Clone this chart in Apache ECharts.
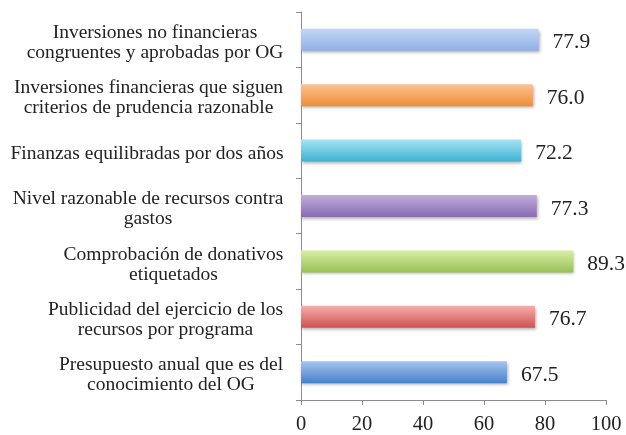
<!DOCTYPE html>
<html>
<head>
<meta charset="utf-8">
<script src="https://cdn.jsdelivr.net/npm/echarts@6/dist/echarts.min.js"></script>
<style>
html,body{margin:0;padding:0;background:#fff;}
#c{width:626px;height:435px;}
</style>
</head>
<body>
<div id="c"></div>
<script>
const categories = [
  "Inversiones no financieras\ncongruentes y aprobadas por OG",
  "Inversiones financieras que siguen\ncriterios de prudencia razonable",
  "Finanzas equilibradas por dos años",
  "Nivel razonable de recursos contra\ngastos",
  "Comprobación de donativos\netiquetados",
  "Publicidad del ejercicio de los\nrecursos por programa",
  "Presupuesto anual que es del\nconocimiento del OG"
];
const values = [77.9, 76.0, 72.2, 77.3, 89.3, 76.7, 67.5];
const xTicks = [0, 20, 40, 60, 80, 100];
const barColors = [
  ["#c3d6f5", "#8fb0e6"],
  ["#fcc293", "#ef8d36"],
  ["#a6e3f3", "#3bb2d1"],
  ["#c0aedb", "#8769b1"],
  ["#d8eea5", "#98c156"],
  ["#f6aeac", "#d0514e"],
  ["#a5c4ef", "#4580ca"]
];

const font = '"Liberation Serif", "DejaVu Serif", serif';
const catSize = 19.5;
// measure each label block width so lines can be centred within their block
const cv = document.createElement('canvas').getContext('2d');
cv.font = catSize + 'px ' + font;
const rich = {};
categories.forEach((c, i) => {
  const w = Math.max(...c.split('\n').map(l => cv.measureText(l).width));
  rich['a' + i] = {width: Math.ceil(w) + 1, align: 'center', fontFamily: font, fontSize: catSize, lineHeight: 20, color: '#222'};
});

const chart = echarts.init(document.getElementById('c'), null, {renderer: 'canvas'});
chart.setOption({
  animation: false,
  backgroundColor: '#ffffff',
  grid: {left: 301, right: 20, top: 12, bottom: 35, containLabel: false},
  xAxis: {
    type: 'value', min: xTicks[0], max: xTicks[xTicks.length - 1], interval: 20,
    axisLine: {show: true, lineStyle: {color: '#8c8c8c', width: 1}},
    axisTick: {show: true, length: 5, lineStyle: {color: '#8c8c8c'}},
    splitLine: {show: false},
    axisLabel: {fontFamily: font, fontSize: 20.5, color: '#222', margin: 14}
  },
  yAxis: {
    type: 'category', data: categories, inverse: true,
    axisLine: {show: true, lineStyle: {color: '#8c8c8c', width: 1}},
    axisTick: {show: true, length: 5, lineStyle: {color: '#8c8c8c'}},
    axisLabel: {
      margin: 17, align: 'right', padding: [6, 0, 0, 0],
      formatter: (v, i) => v.split('\n').map(l => '{a' + i + '|' + l + '}').join('\n'),
      rich: rich
    }
  },
  series: [{
    type: 'bar',
    barWidth: 22,
    data: values.map((v, i) => ({
      value: v,
      itemStyle: {
        color: new echarts.graphic.LinearGradient(0, 0, 0, 1, [
          {offset: 0, color: barColors[i][0]},
          {offset: 1, color: barColors[i][1]}
        ]),
        shadowColor: 'rgba(0,0,0,0.3)', shadowBlur: 3, shadowOffsetY: 2, shadowOffsetX: 1
      }
    })),
    label: {
      show: true, position: 'right', distance: 14, offset: [0, 3],
      fontFamily: font, fontSize: 21.5, color: '#222',
      formatter: p => p.value.toFixed(1)
    }
  }]
});
</script>
</body>
</html>
